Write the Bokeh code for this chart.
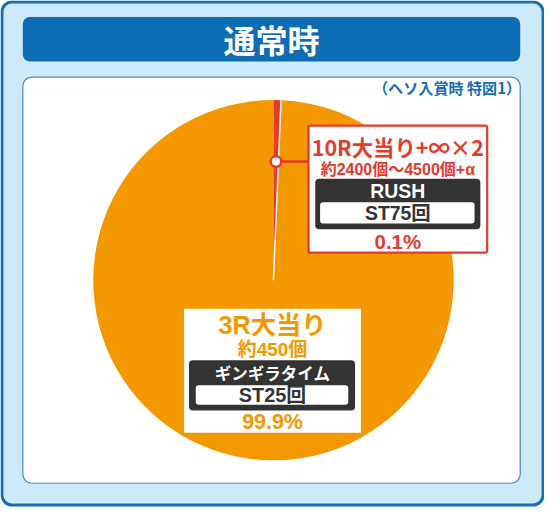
import math
from bokeh.plotting import figure
from bokeh.models import Range1d
from bokeh.core.properties import value
from bokeh.embed import file_html
from bokeh.resources import INLINE

# ---- data ----
title = "通常時"
subtitle = "（ヘソ入賞時 特図1）"
categories = ["3R大当り", "10R大当り+∞×2"]
shares = [99.9, 0.1]
share_labels = ["99.9%", "0.1%"]
payouts = ["約450個", "約2400個～4500個+α"]
modes = ["ギンギラタイム", "RUSH"]
st_labels = ["ST25回", "ST75回"]
colors = ["#f39800", "#e8392f"]

W, H = 560, 523
PW, PH = 544, 507
FS = PW / W
FONT = value("Noto Sans CJK JP")
FONT2 = value("'Liberation Sans', 'Noto Sans CJK JP'")


def Y(v):
    return H - v


def px(s):
    return f"{s * FS:.1f}px"


p = figure(width=PW, height=PH, x_range=Range1d(0, W), y_range=Range1d(0, H),
           output_backend="svg", toolbar_location=None, min_border=0)
p.axis.visible = False
p.grid.visible = False
p.outline_line_color = None
p.background_fill_color = "white"
p.border_fill_color = "white"

# frame
p.quad(left=[1.5], right=[558.5], top=[Y(1.5)], bottom=[Y(520.5)],
       fill_color="#cdeaf8", line_color="#1a6db5", line_width=3, border_radius=10)
p.quad(left=[23], right=[535], top=[Y(17)], bottom=[Y(63)],
       fill_color="#0e6cb5", line_color=None, border_radius=7)
p.quad(left=[23], right=[535], top=[Y(79)], bottom=[Y(498)],
       fill_color="white", line_color="#4f84c4", line_width=1.2, border_radius=9)

p.text(x=[279], y=[Y(40)], text=[title], text_font=FONT, text_font_style="bold",
       text_font_size=px(33), text_color="white", text_align="center", text_baseline="middle")
p.text(x=[536], y=[Y(89)], text=[subtitle], text_font=FONT, text_font_style="bold",
       text_font_size=px(15.5), text_color="#1a6db5", text_align="right", text_baseline="middle")

# pie
cx, cy, r = 281, Y(288.5), 185.5
min_frac = 0.0067
disp = [max(s / sum(shares), min_frac) for s in shares]
tot = sum(disp)
disp = [d / tot for d in disp]
a_red = 2 * math.pi * disp[1]
top = math.pi / 2
p.wedge(x=[cx], y=[cy], radius=r, start_angle=[top], end_angle=[top - a_red + 2 * math.pi],
        fill_color=colors[0], line_color=None)
p.wedge(x=[cx], y=[cy], radius=r, start_angle=[top - a_red], end_angle=[top],
        fill_color=colors[1], line_color=None)
edge = top - a_red
p.segment(x0=[cx], y0=[cy], x1=[cx + r * math.cos(edge)], y1=[cy + r * math.sin(edge)],
          line_color="white", line_width=1.5)

# marker + connector
mid = top - a_red / 2
mx, my = cx + 0.66 * r * math.cos(mid), cy + 0.66 * r * math.sin(mid)
p.segment(x0=[mx], y0=[my], x1=[317], y1=[my], line_color=colors[1], line_width=2.5)
p.scatter(x=[mx], y=[my], size=11 * FS, fill_color="white", line_color=colors[1], line_width=2.5)

# red label box
bx = 409
p.quad(left=[317], right=[501], top=[Y(129)], bottom=[Y(260)],
       fill_color="white", line_color=colors[1], line_width=2.2, border_radius=2)
p.quad(left=[324], right=[494], top=[Y(184)], bottom=[Y(236)],
       fill_color="#333333", line_color=None, border_radius=4)
p.quad(left=[329], right=[488], top=[Y(208)], bottom=[Y(230)],
       fill_color="white", line_color=None, border_radius=3)
p.text(x=[bx], y=[Y(151)], text=[categories[1]], text_font=FONT, text_font_style="bold",
       text_font_size=px(22), text_color=colors[1], text_align="center", text_baseline="middle")
p.text(x=[bx], y=[Y(174)], text=[payouts[1]], text_font=FONT2, text_font_style="bold",
       text_font_size=px(16.5), text_color=colors[1], text_align="center", text_baseline="middle")
p.text(x=[bx], y=[Y(197)], text=[modes[1]], text_font=FONT2, text_font_style="bold",
       text_font_size=px(20), text_color="white", text_align="center", text_baseline="middle")
p.text(x=[bx], y=[Y(219)], text=[st_labels[1]], text_font=FONT2, text_font_style="bold",
       text_font_size=px(20), text_color="#333333", text_align="center", text_baseline="middle")
p.text(x=[bx], y=[Y(249)], text=[share_labels[1]], text_font=FONT2, text_font_style="bold",
       text_font_size=px(21), text_color=colors[1], text_align="center", text_baseline="middle")

# orange label box
ox = 280
p.quad(left=[189], right=[371], top=[Y(318)], bottom=[Y(446)],
       fill_color="white", line_color=None)
p.quad(left=[194], right=[365], top=[Y(371)], bottom=[Y(423)],
       fill_color="#333333", line_color=None, border_radius=4)
p.quad(left=[201], right=[358], top=[Y(397)], bottom=[Y(417)],
       fill_color="white", line_color=None, border_radius=3)
p.text(x=[ox], y=[Y(335)], text=[categories[0]], text_font=FONT2, text_font_style="bold",
       text_font_size=px(26), text_color=colors[0], text_align="center", text_baseline="middle")
p.text(x=[ox], y=[Y(360)], text=[payouts[0]], text_font=FONT2, text_font_style="bold",
       text_font_size=px(19.5), text_color=colors[0], text_align="center", text_baseline="middle")
p.text(x=[ox], y=[Y(384)], text=[modes[0]], text_font=FONT, text_font_style="bold",
       text_font_size=px(17), text_color="white", text_align="center", text_baseline="middle")
p.text(x=[ox], y=[Y(407)], text=[st_labels[0]], text_font=FONT2, text_font_style="bold",
       text_font_size=px(20.5), text_color="#333333", text_align="center", text_baseline="middle")
p.text(x=[ox], y=[Y(435)], text=[share_labels[0]], text_font=FONT2, text_font_style="bold",
       text_font_size=px(22), text_color=colors[0], text_align="center", text_baseline="middle")

open("out.html", "w").write(file_html(p, INLINE))
